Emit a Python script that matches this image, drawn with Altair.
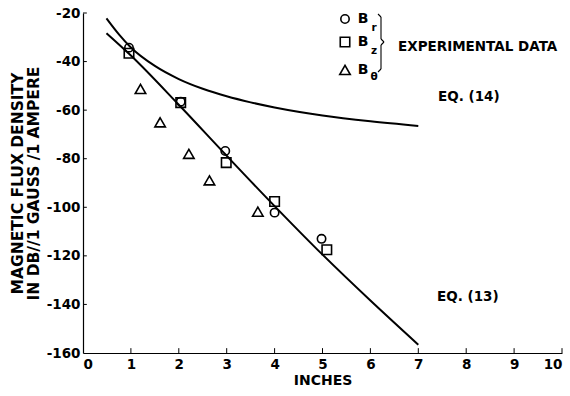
import altair as alt
import pandas as pd

# Experimental data (inches, dB)
br_x = [0.96, 2.04, 2.97, 4.0, 4.98]
br_y = [-34.3, -56.5, -76.8, -102.2, -113.0]
bz_x = [0.96, 2.04, 2.99, 4.0, 5.09]
bz_y = [-36.6, -56.9, -81.6, -97.6, -117.5]
bt_x = [1.2, 1.61, 2.21, 2.64, 3.65]
bt_y = [-51.3, -65.0, -78.0, -88.9, -101.8]

# Theory curves
eq13_x = [0.49, 1.0, 2.0, 3.0, 4.0, 5.0, 6.0, 7.0]
eq13_y = [-28.3, -37.5, -57.8, -78.8, -99.5, -119.5, -138.4, -156.6]
eq14_x = [0.49, 0.75, 1.0, 1.5, 2.0, 2.5, 3.0, 3.5, 4.0, 5.0, 6.0, 7.0]
eq14_y = [-22.2, -28.8, -34.2, -41.8, -47.2, -51.2, -54.3, -56.8, -58.9, -62.2, -64.6, -66.5]

x_ticks = [0, 1, 2, 3, 4, 5, 6, 7, 8, 9, 10]
y_ticks = [-160, -140, -120, -100, -80, -60, -40, -20]

FONT = "DejaVu Sans"
W, H = 479, 340

xs = alt.Scale(domain=[0, 10], nice=False)
ys = alt.Scale(domain=[-160, -20], nice=False)

pts = pd.concat([
    pd.DataFrame({"x": br_x, "y": br_y, "s": "Br"}),
    pd.DataFrame({"x": bz_x, "y": bz_y, "s": "Bz"}),
    pd.DataFrame({"x": bt_x, "y": bt_y, "s": "Bt"}),
])
lines = pd.concat([
    pd.DataFrame({"x": eq13_x, "y": eq13_y, "c": "13"}),
    pd.DataFrame({"x": eq14_x, "y": eq14_y, "c": "14"}),
])

base_x = alt.X("x:Q", scale=xs, axis=alt.Axis(
    values=x_ticks, title="INCHES", grid=False, tickSize=0, labelPadding=4,
    labelFont=FONT, labelFontSize=13.5, labelFontWeight="bold", labelColor="black",
    titleFont=FONT, titleFontSize=14, titleFontWeight="bold", titleColor="black",
    titlePadding=3, domainColor="black", domainWidth=1.2))
base_y = alt.Y("y:Q", scale=ys, axis=alt.Axis(
    values=y_ticks, title=["MAGNETIC FLUX DENSITY", "IN DB//1 GAUSS /1 AMPERE"],
    grid=False, tickSize=0, labelPadding=3, labelExpr="'' + datum.value",
    labelFont=FONT, labelFontSize=13.5, labelFontWeight="bold", labelColor="black",
    titleFont=FONT, titleFontSize=15.5, titleFontWeight="bold", titleColor="black",
    titlePadding=5, titleLineHeight=16, domainColor="black", domainWidth=1.2))

line_layer = alt.Chart(lines).mark_line(color="black", strokeWidth=2, interpolate="monotone").encode(
    x=base_x, y=base_y, detail="c:N")

shape_scale = alt.Scale(domain=["Br", "Bz", "Bt"], range=["circle", "square", "triangle-up"])
size_scale = alt.Scale(domain=["Br", "Bz", "Bt"], range=[70, 110, 55])
pt_layer = alt.Chart(pts).mark_point(filled=False, color="black", strokeWidth=1.6, opacity=1).encode(
    x="x:Q", y="y:Q",
    shape=alt.Shape("s:N", scale=shape_scale, legend=None),
    size=alt.Size("s:N", scale=size_scale, legend=None))

# inward ticks
xt = pd.DataFrame({"x": x_ticks[1:], "y": -160, "y2": -158})
xtick_layer = alt.Chart(xt).mark_rule(color="black", strokeWidth=1).encode(x="x:Q", y="y:Q", y2="y2")
yt = pd.DataFrame({"y": y_ticks[1:], "x": 0, "x2": 0.08})
ytick_layer = alt.Chart(yt).mark_rule(color="black", strokeWidth=1).encode(y="y:Q", x="x:Q", x2="x2")

# legend (manual)
leg = pd.DataFrame({"s": ["Br", "Bz", "Bt"], "py": [6, 29, 57]})
leg_pts = alt.Chart(leg).mark_point(filled=False, color="black", strokeWidth=1.6, opacity=1).encode(
    x=alt.value(262), y=alt.Y("py:Q", scale=None),
    shape=alt.Shape("s:N", scale=shape_scale, legend=None),
    size=alt.Size("s:N", scale=size_scale, legend=None))
leg_b = alt.Chart(leg).mark_text(text="B", font=FONT, fontSize=14, fontWeight="bold", color="black").encode(
    x=alt.value(280), y=alt.Y("py:Q", scale=None))
subs = pd.DataFrame({"t": ["r", "z", "θ"], "py": [15, 38, 64]})
leg_sub = alt.Chart(subs).mark_text(font=FONT, fontSize=10.5, fontWeight="bold", color="black").encode(
    x=alt.value(291), y=alt.Y("py:Q", scale=None), text="t:N")

# brace drawn as thin segments (decoration, in pixels)
brace_df = pd.DataFrame({
    "bx": [295, 298, 298, 301, 298, 298],
    "by": [1, 4, 26, 29, 32, 56],
    "bx2": [298, 298, 301, 298, 298, 295],
    "by2": [4, 26, 29, 32, 56, 59],
})
brace = alt.Chart(brace_df).mark_rule(color="black", strokeWidth=1.1).encode(
    x=alt.X("bx:Q", scale=None), y=alt.Y("by:Q", scale=None),
    x2="bx2:Q", y2="by2:Q")

exp_txt = alt.Chart(pd.DataFrame({"a": [0]})).mark_text(
    text="EXPERIMENTAL DATA", font=FONT, fontSize=13.5, fontWeight="bold", align="left",
    baseline="middle", color="black").encode(x=alt.value(315), y=alt.value(34))
eq14_txt = alt.Chart(pd.DataFrame({"a": [0]})).mark_text(
    text="EQ. (14)", font=FONT, fontSize=13.5, fontWeight="bold", align="left",
    baseline="middle", color="black").encode(x=alt.value(355), y=alt.value(84))
eq13_txt = alt.Chart(pd.DataFrame({"a": [0]})).mark_text(
    text="EQ. (13)", font=FONT, fontSize=13.5, fontWeight="bold", align="left",
    baseline="middle", color="black").encode(x=alt.value(354), y=alt.value(284))

chart = alt.layer(
    line_layer, pt_layer, xtick_layer, ytick_layer,
    leg_pts, leg_b, leg_sub, brace, exp_txt, eq14_txt, eq13_txt
).resolve_scale(shape="independent", size="independent").properties(
    width=W, height=H,
    autosize=alt.AutoSizeParams(type="none"),
    padding={"left": 83, "top": 13, "right": 8, "bottom": 43},
    background="white",
).configure_view(stroke=None)

chart.save("out.html", embed_options={"renderer": "svg", "actions": False})
